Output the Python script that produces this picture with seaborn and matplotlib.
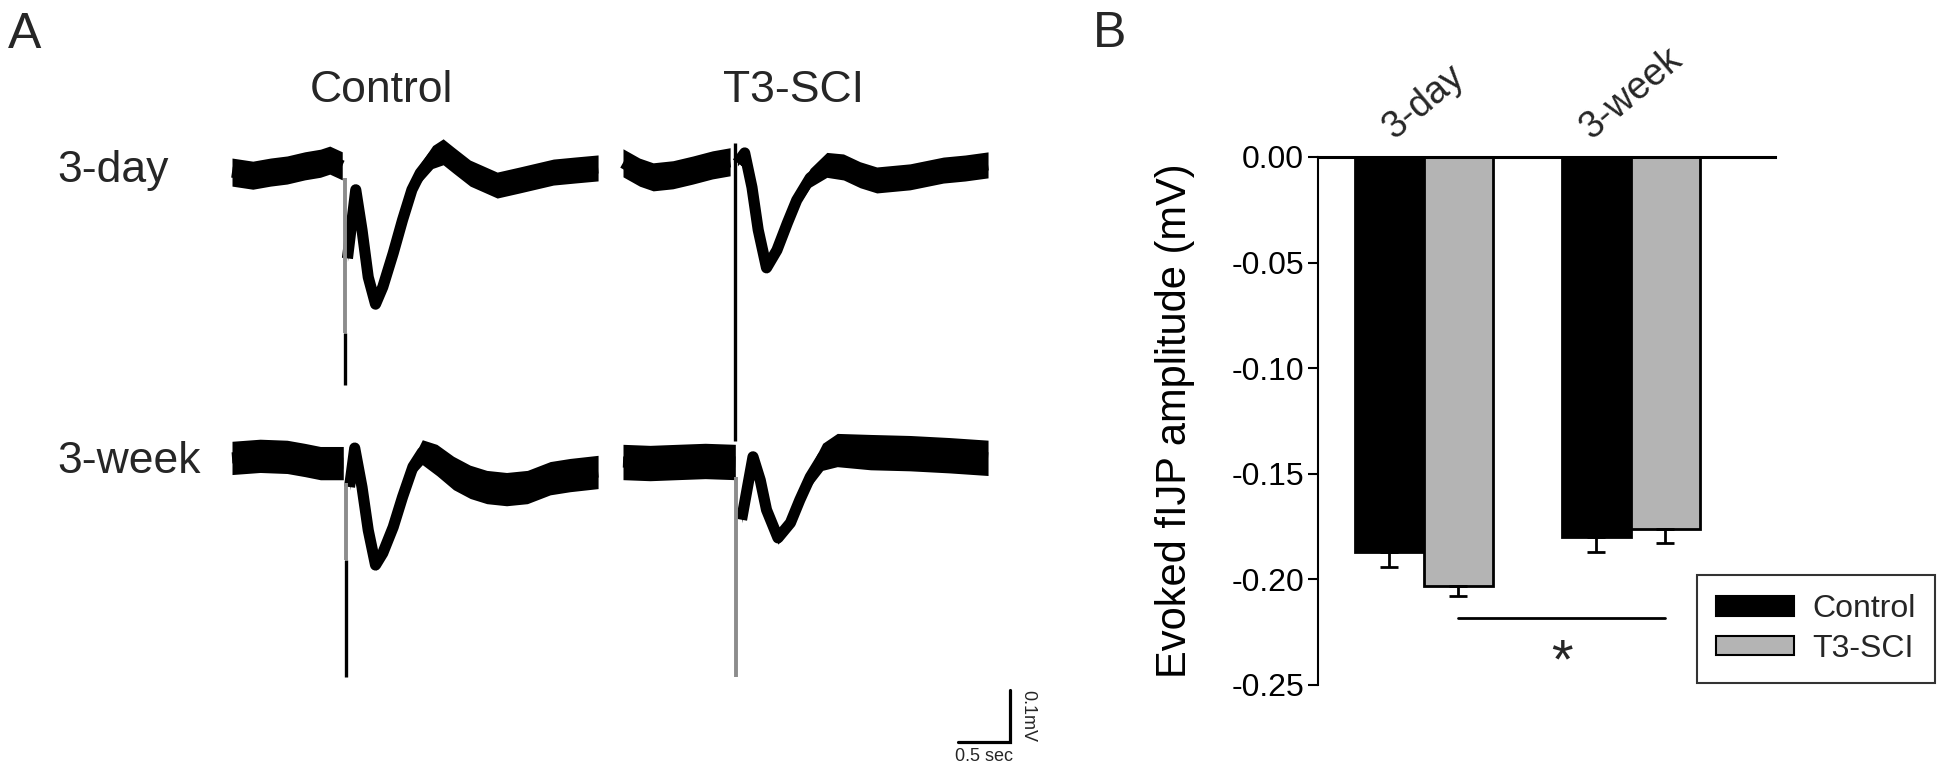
import numpy as np
import pandas as pd
import matplotlib
matplotlib.use("Agg")
import matplotlib.pyplot as plt
import seaborn as sns
from matplotlib.patches import Patch
from matplotlib.ticker import FormatStrFormatter

# ---- Panel A: representative traces (time in s from trace start, mV from baseline)
c3d_t = [0.00, 0.20, 0.37, 0.53, 0.70, 0.85, 0.94, 1.06,
         1.11, 1.19, 1.25, 1.31, 1.38, 1.45, 1.55, 1.64, 1.73, 1.81, 1.93, 2.03, 2.13,
         2.29, 2.55, 2.77, 3.09, 3.30, 3.52]
c3d_v = [-0.004, -0.010, -0.004, 0.000, 0.008, 0.013, 0.019, 0.008,
         -0.170, -0.038, -0.115, -0.206, -0.258, -0.225, -0.160, -0.096, -0.038, -0.006, 0.025, 0.035, 0.019,
         -0.006, -0.029, -0.019, -0.004, 0.000, 0.004]
c3d_w = [0.027, 0.027, 0.027, 0.027, 0.027, 0.027, 0.027, 0.027,
         0.006, 0.008, 0.008, 0.008, 0.010, 0.010, 0.010, 0.012, 0.014, 0.018, 0.022, 0.025, 0.025,
         0.025, 0.025, 0.025, 0.025, 0.025, 0.025]
c3d_stim = 1.09
c3d_art = [-0.015, -0.313, -0.413]   # gray top, gray->black, black bottom

t3d_t = [0.00, 0.16, 0.29, 0.48, 0.67, 0.86, 1.03,
         1.10, 1.17, 1.24, 1.30, 1.38, 1.48, 1.58, 1.67, 1.80, 1.96, 2.12, 2.28, 2.44,
         2.76, 3.08, 3.29, 3.51]
t3d_v = [0.010, -0.008, -0.017, -0.013, -0.004, 0.006, 0.012,
         0.010, 0.029, -0.037, -0.119, -0.192, -0.158, -0.106, -0.062, -0.019, 0.006, 0.002, -0.013, -0.023,
         -0.017, -0.004, 0.000, 0.006]
t3d_w = [0.027, 0.027, 0.027, 0.027, 0.027, 0.027, 0.027,
         0.006, 0.008, 0.008, 0.008, 0.010, 0.010, 0.012, 0.014, 0.018, 0.024, 0.025, 0.025, 0.025,
         0.025, 0.025, 0.025, 0.025]
t3d_stim = 1.08
t3d_art = [0.048, 0.048, -0.525]

c3w_t = [0.00, 0.27, 0.53, 0.70, 0.85, 1.07,
         1.13, 1.18, 1.25, 1.31, 1.38, 1.45, 1.55, 1.64, 1.74, 1.83, 1.97, 2.13, 2.29,
         2.45, 2.64, 2.84, 3.06, 3.25, 3.52]
c3w_v = [0.004, 0.008, 0.006, 0.000, -0.006, -0.006,
         -0.052, 0.023, -0.052, -0.135, -0.202, -0.179, -0.129, -0.071, -0.013, 0.015, 0.000, -0.025, -0.042,
         -0.052, -0.056, -0.052, -0.035, -0.029, -0.023]
c3w_w = [0.032, 0.032, 0.032, 0.032, 0.032, 0.032,
         0.006, 0.008, 0.008, 0.008, 0.010, 0.010, 0.010, 0.012, 0.016, 0.024, 0.030, 0.032, 0.032,
         0.032, 0.032, 0.032, 0.032, 0.032, 0.032]
c3w_stim = 1.10
c3w_art = [-0.044, -0.192, -0.417]

t3w_t = [0.00, 0.26, 0.52, 0.79, 1.08,
         1.14, 1.25, 1.32, 1.38, 1.49, 1.61, 1.70, 1.80, 1.92, 2.06, 2.38, 2.76, 3.14, 3.51]
t3w_v = [0.000, -0.002, 0.000, 0.002, 0.000,
         -0.111, 0.010, -0.035, -0.092, -0.146, -0.117, -0.073, -0.029, 0.010, 0.023, 0.019, 0.017, 0.013, 0.008]
t3w_w = [0.034, 0.034, 0.034, 0.034, 0.034,
         0.006, 0.010, 0.010, 0.010, 0.012, 0.012, 0.014, 0.018, 0.026, 0.032, 0.034, 0.034, 0.034, 0.034]
t3w_stim = 1.09
t3w_art = [-0.029, -0.413, -0.413]

scale_sec = 0.5
scale_mv = 0.1

# ---- Panel B: evoked fIJP amplitude
periods = ["3-day", "3-day", "3-week", "3-week"]
groups = ["Control", "T3-SCI", "Control", "T3-SCI"]
amplitude = [-0.187, -0.203, -0.180, -0.176]
sem = [0.007, 0.005, 0.007, 0.007]
sig_level = -0.2185
yticks = [0.00, -0.05, -0.10, -0.15, -0.20, -0.25]

W, H = 1950, 775
GRAY = "#b4b4b4"


def fx(px):
    return px / W


def fy(py):
    return 1 - py / H


sns.set_theme(style="white")
plt.rcParams["font.family"] = ["Liberation Sans", "DejaVu Sans"]
plt.rcParams["axes.unicode_minus"] = False

fig = plt.figure(figsize=(W / 100, H / 100), dpi=100)
fig.patch.set_facecolor("white")

# ---------------- Panel A ----------------
PX_PER_S = 104.0
PX_PER_MV = 520.0
axA = fig.add_axes([fx(220), fy(770), 810 / W, 670 / H])
axA.set_xlim(0, 810 / PX_PER_S)
axA.set_ylim(0, 670 / PX_PER_MV)
axA.axis("off")


def draw_trace(ax, t, v, w, stim, art, x0, y0):
    ox = (x0 - 220) / PX_PER_S
    oy = (770 - y0) / PX_PER_MV
    t = np.asarray(t) + ox
    v = np.asarray(v) + oy
    w = np.asarray(w)
    s = stim + ox
    for mask in (t < s, t > s):
        ax.fill_between(t[mask], v[mask] - w[mask], v[mask] + w[mask],
                        color="black", lw=0)
        sns.lineplot(x=t[mask], y=v[mask], color="black", lw=8, sort=False,
                     estimator=None, ax=ax, solid_joinstyle="round",
                     solid_capstyle="butt")
    top, mid, bot = [a + oy for a in art]
    if top > mid:
        ax.plot([s, s], [top, mid], color="#8c8c8c", lw=2.8, solid_capstyle="butt")
    if mid > bot:
        ax.plot([s, s], [mid, bot], color="black", lw=2.4, solid_capstyle="butt")


draw_trace(axA, c3d_t, c3d_v, c3d_w, c3d_stim, c3d_art, 232, 170)
draw_trace(axA, t3d_t, t3d_v, t3d_w, t3d_stim, t3d_art, 623, 168)
draw_trace(axA, c3w_t, c3w_v, c3w_w, c3w_stim, c3w_art, 232, 460)
draw_trace(axA, t3w_t, t3w_v, t3w_w, t3w_stim, t3w_art, 623, 462)

# scale bar
sx1 = (1010 - 220) / PX_PER_S
sy0 = (770 - 742) / PX_PER_MV
axA.plot([sx1 - scale_sec, sx1, sx1], [sy0, sy0, sy0 + scale_mv],
         color="black", lw=2.3, solid_joinstyle="miter")
axA.text(sx1 - scale_sec / 2, sy0 - 0.012, f"{scale_sec} sec", ha="center", va="top",
         fontsize=13)
axA.text(sx1 + 0.09, sy0 + scale_mv / 2, f"{scale_mv}mV", ha="left", va="center",
         rotation=270, fontsize=13)

fig.text(fx(8), fy(48), "A", ha="left", va="baseline", fontsize=36)
fig.text(fx(381), fy(102), "Control", ha="center", va="baseline", fontsize=32)
fig.text(fx(793), fy(102), "T3-SCI", ha="center", va="baseline", fontsize=32)
fig.text(fx(57), fy(182), "3-day", ha="left", va="baseline", fontsize=32)
fig.text(fx(57), fy(473), "3-week", ha="left", va="baseline", fontsize=32)

# ---------------- Panel B ----------------
fig.text(fx(1093), fy(47), "B", ha="left", va="baseline", fontsize=36)

df = pd.DataFrame({"period": periods, "group": groups,
                   "amplitude": amplitude, "sem": sem})

axB = fig.add_axes([fx(1318), fy(685), 457 / W, 528 / H])
sns.barplot(data=df, x="period", y="amplitude", hue="group",
            palette=["black", GRAY], saturation=1, edgecolor="black",
            linewidth=2, width=0.667, errorbar=None, legend=False, ax=axB)

centers = {}
for container, grp in zip(axB.containers, ["Control", "T3-SCI"]):
    for bar, per in zip(container, ["3-day", "3-week"]):
        centers[(grp, per)] = bar.get_x() + bar.get_width() / 2

xs = [centers[(g, p)] for g, p in zip(groups, periods)]
axB.errorbar(xs, amplitude, yerr=[sem, [0] * len(sem)], fmt="none",
             ecolor="black", elinewidth=2, capsize=6.5, capthick=2, zorder=3)

axB.set_xlim(-0.512, 1.696)
axB.set_ylim(-0.25, 0)
axB.set_yticks(yticks)
axB.yaxis.set_major_formatter(FormatStrFormatter("%.2f"))
axB.xaxis.tick_top()
axB.tick_params(axis="x", length=0, pad=8, labelsize=27)
plt.setp(axB.get_xticklabels(), rotation=40, ha="center")
axB.tick_params(axis="y", direction="out", length=7, width=1.5, pad=3,
                labelsize=23, left=True, colors="black")
axB.set_xlabel("")
axB.set_ylabel("Evoked fIJP amplitude (mV)", fontsize=30, color="black")
axB.yaxis.set_label_coords(-0.27, 0.5)
for side in ("bottom", "right"):
    axB.spines[side].set_visible(False)
axB.spines["top"].set_linewidth(2.2)
axB.spines["left"].set_linewidth(1.5)
axB.spines["top"].set_color("black")
axB.spines["left"].set_color("black")

# significance bracket
x_a = centers[("T3-SCI", "3-day")]
x_b = centers[("T3-SCI", "3-week")]
axB.plot([x_a, x_b], [sig_level, sig_level], color="black", lw=2, clip_on=False)
axB.text((x_a + x_b) / 2, sig_level - 0.0215, "*", ha="center", va="center",
         fontsize=40, clip_on=False)

handles = [Patch(facecolor="black", edgecolor="black", lw=1.5, label="Control"),
           Patch(facecolor=GRAY, edgecolor="black", lw=1.5, label="T3-SCI")]
leg = axB.legend(handles=handles, loc="upper left",
                 bbox_to_anchor=(fx(1697), fy(575)), bbox_transform=fig.transFigure,
                 frameon=True, fancybox=False, edgecolor="black", fontsize=23,
                 handlelength=2.45, handleheight=0.56, labelspacing=0.3,
                 borderpad=0.6, handletextpad=0.55, borderaxespad=0)
leg.get_frame().set_linewidth(1.5)

fig.savefig("out.png", dpi=100, facecolor="white")
